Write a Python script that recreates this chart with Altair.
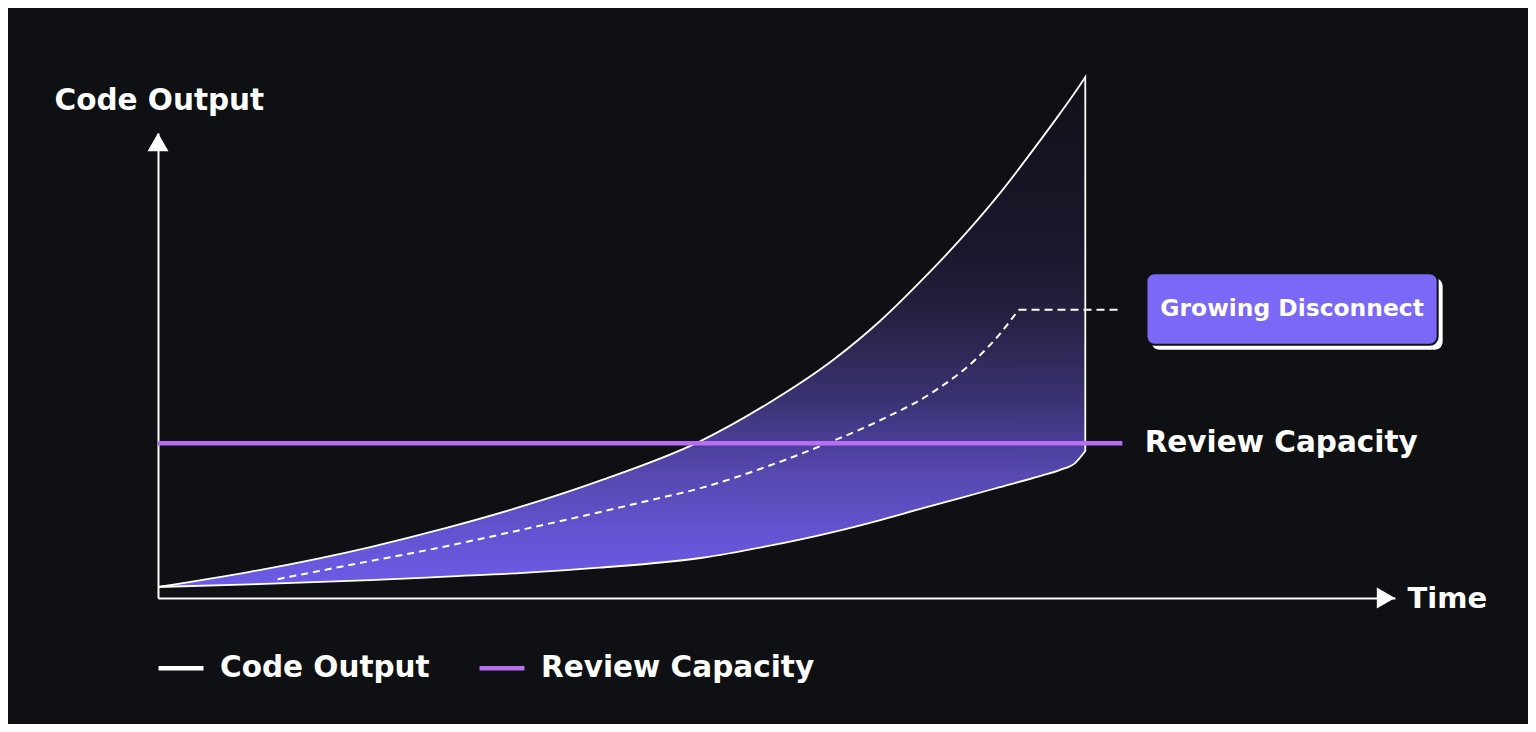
import altair as alt
import pandas as pd

# ---------------- data ----------------
# time samples shared by both bounds of the shaded "disconnect" band
band_t = [0, 9.9, 22.9, 31.1, 39.4, 47.6, 58.5, 65.7, 72.8, 77.9, 82.5, 86.5, 90.8,
          95.1, 97.3, 98.9, 100]
code_output_v = [2.1, 5.0, 9.75, 13.4, 17.6, 22.4, 30.0, 37.1, 45.5, 53.0, 61.0, 68.5, 77.4,
                 87.4, 92.7, 96.7, 99.6]
band_lower_v = [2.1, 2.6, 3.4, 4.1, 4.8, 5.8, 7.65, 9.9, 12.6, 14.9, 17.2, 19.1, 21.2,
                23.3, 24.5, 25.8, 28.1]

# dashed middle trend
mid_t = [12.9, 21.8, 31.1, 39.1, 47.6, 53.1, 58.5, 65.3, 72.2, 77.9, 83.6, 88.1, 90.8, 92.8]
mid_v = [3.6, 6.7, 9.9, 13.0, 16.4, 18.7, 21.0, 24.9, 29.6, 34.0, 39.4, 45.5, 50.5, 55.1]

review_capacity_v = 29.6
capacity_end_t = 104.0

series_names = ["Code Output", "Review Capacity"]
series_colors = ["#ffffff", "#b86ef2"]

callout_text = "Growing Disconnect"
callout_t = [106.6, 138.0]
callout_v = [48.4, 62.1]
capacity_label_t = 106.4

# ---------------- layout / style ----------------
FONT = "DejaVu Sans"
BG = "#0f1013"
W, H = 1237, 465
X_MAX, Y_MAX = 133.4, 88.9

xs = alt.Scale(domain=[0, X_MAX], nice=False, zero=False)
ys = alt.Scale(domain=[0, Y_MAX], nice=False, zero=False)

x_axis = alt.Axis(title="Time", domainColor="white", domainWidth=2, ticks=False, labels=False,
                  grid=False, titleAngle=0, titleAlign="left", titleBaseline="alphabetic",
                  titleX=1249, titleY=9, titleFont=FONT, titleFontSize=29,
                  titleFontWeight="bold", titleColor="white")
y_axis = alt.Axis(title="Code Output", domainColor="white", domainWidth=2, ticks=False,
                  labels=False, grid=False, titleAngle=0, titleAlign="left",
                  titleBaseline="alphabetic", titleX=-104, titleY=-24, titleFont=FONT,
                  titleFontSize=29.5, titleFontWeight="bold", titleColor="white")

stroke_scale = alt.Scale(domain=series_names, range=series_colors)
legend = alt.Legend(title=None, orient="none", legendX=-2, legendY=510, direction="horizontal",
                    symbolType="stroke", symbolSize=2025, symbolStrokeWidth=4.5,
                    labelFont=FONT, labelFontSize=29.5, labelFontWeight="bold",
                    labelColor="white", labelOffset=14, columnPadding=40, padding=0,
                    labelLimit=500)


def X(f):
    return alt.X(f, type="quantitative", scale=xs, axis=x_axis)


def Y(f):
    return alt.Y(f, type="quantitative", scale=ys, axis=y_axis)


band_df = pd.DataFrame({"t": band_t, "upper": code_output_v, "lower": band_lower_v,
                        "series": series_names[0]})
mid_df = pd.DataFrame({"t": mid_t, "v": mid_v})
cap_df = pd.DataFrame({"t0": [0], "t1": [capacity_end_t], "v": [review_capacity_v],
                       "series": [series_names[1]]})
conn_df = pd.DataFrame({"t0": [mid_t[-1]], "t1": [capacity_end_t], "v": [mid_v[-1]]})
cap_label_df = pd.DataFrame({"t": [capacity_label_t], "v": [review_capacity_v],
                             "label": [series_names[1]]})
box_df = pd.DataFrame({"t0": [callout_t[0]], "t1": [callout_t[1]], "v0": [callout_v[0]],
                       "v1": [callout_v[1]], "tc": [sum(callout_t) / 2],
                       "vc": [sum(callout_v) / 2], "label": [callout_text]})
up_arrow_df = pd.DataFrame({"t": [0], "v": [Y_MAX]})
right_arrow_df = pd.DataFrame({"t": [X_MAX], "v": [0]})

gradient = alt.Gradient(
    gradient="linear", x1=0, x2=0, y1=0, y2=1,
    stops=[
        alt.GradientStop(offset=0, color="#121118"),
        alt.GradientStop(offset=0.34, color="#19172c"),
        alt.GradientStop(offset=0.46, color="#24203f"),
        alt.GradientStop(offset=0.64, color="#3b3475"),
        alt.GradientStop(offset=0.72, color="#4a3f9a"),
        alt.GradientStop(offset=0.78, color="#5749b0"),
        alt.GradientStop(offset=0.9, color="#6354d3"),
        alt.GradientStop(offset=1, color="#6c5ce7"),
    ],
)

band = alt.Chart(band_df).mark_area(fill=gradient, strokeWidth=1.8, interpolate="monotone").encode(
    x=X("t"), y=Y("upper"), y2="lower",
    stroke=alt.Stroke("series:N", scale=stroke_scale, legend=legend),
)

mid = alt.Chart(mid_df).mark_line(color="white", strokeDash=[7, 5], strokeWidth=2,
                                  interpolate="monotone").encode(x=X("t"), y=Y("v"))

connector = alt.Chart(conn_df).mark_rule(color="white", strokeDash=[8, 5], strokeWidth=2).encode(
    x=X("t0"), x2="t1", y=Y("v"))

capacity = alt.Chart(cap_df).mark_rule(strokeWidth=4.5).encode(
    x=X("t0"), x2="t1", y=Y("v"),
    stroke=alt.Stroke("series:N", scale=stroke_scale, legend=legend),
)

cap_label = alt.Chart(cap_label_df).mark_text(
    align="left", baseline="middle", font=FONT, fontSize=29.5, fontWeight="bold", color="white"
).encode(x=X("t"), y=Y("v"), text="label:N")

up_arrow = alt.Chart(up_arrow_df).mark_point(shape="triangle-up", size=440, filled=True,
                                             color="white", opacity=1, yOffset=9.1).encode(
    x=X("t"), y=Y("v"))
right_arrow = alt.Chart(right_arrow_df).mark_point(shape="triangle-right", size=440, filled=True,
                                                   color="white", opacity=1, xOffset=-9.1).encode(
    x=X("t"), y=Y("v"))

shadow = alt.Chart(box_df).mark_rect(color="white", cornerRadius=8, xOffset=5, x2Offset=5,
                                     yOffset=5, y2Offset=5).encode(
    x=X("t0"), x2="t1", y=Y("v0"), y2="v1")
box = alt.Chart(box_df).mark_rect(fill="#7b68f6", stroke=BG, strokeWidth=2, cornerRadius=8).encode(
    x=X("t0"), x2="t1", y=Y("v0"), y2="v1")
box_text = alt.Chart(box_df).mark_text(
    align="center", baseline="middle", font=FONT, fontSize=23.4, fontWeight="bold", color="white"
).encode(x=X("tc"), y=Y("vc"), text="label:N")

chart = alt.layer(
    band, mid, capacity, connector, cap_label, up_arrow, right_arrow, shadow, box, box_text
).properties(
    width=W, height=H,
    padding={"left": 150, "top": 125, "right": 133, "bottom": 126},
    autosize=alt.AutoSizeParams(type="none"),
    background=BG,
).configure_view(strokeWidth=0)

chart.save("out.html", embed_options={"renderer": "svg", "actions": False})
